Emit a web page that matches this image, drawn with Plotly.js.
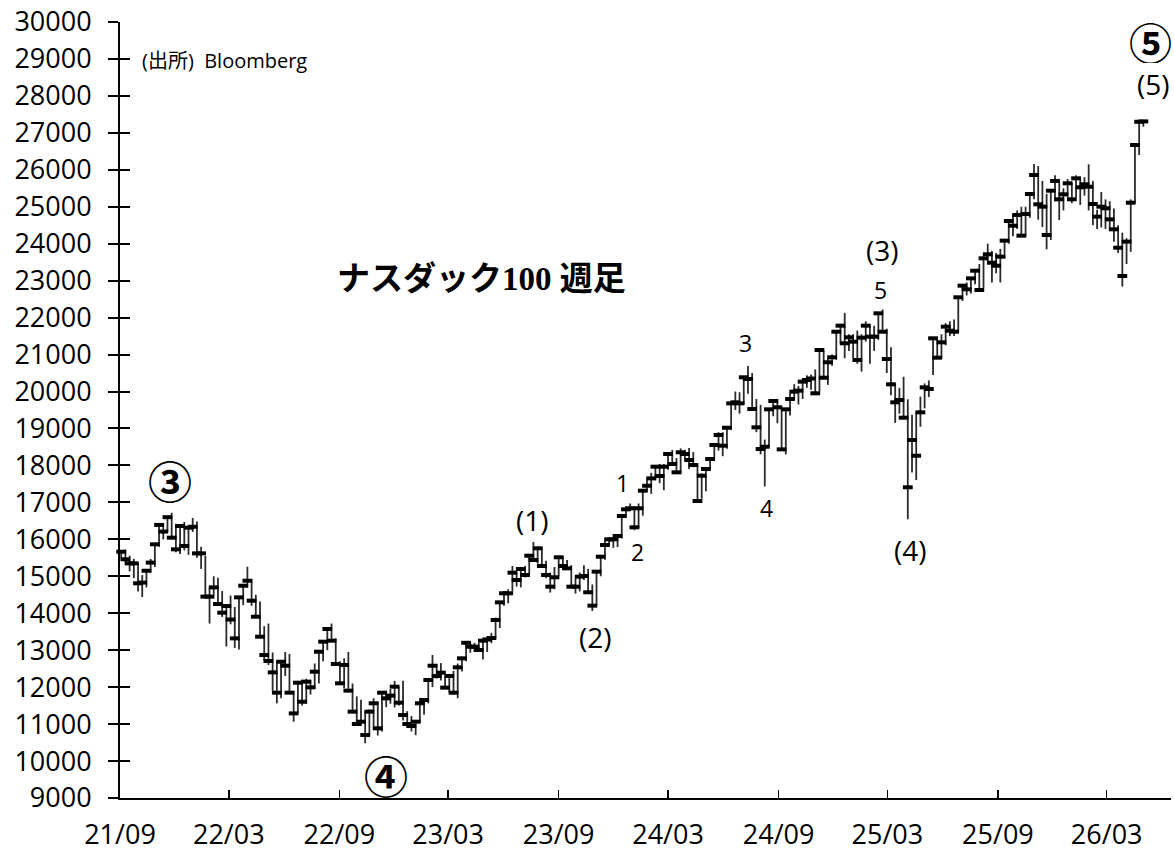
<!DOCTYPE html>
<html>
<head>
<meta charset="utf-8">
<script src="https://cdn.plot.ly/plotly-3.0.1.min.js"></script>
<style>html,body{margin:0;padding:0;background:#fff;}#chart{width:1174px;height:852px;}</style>
</head>
<body>
<div id="chart"></div>
<script>
// Weekly bars: first week ending 2021-09-03, one bar per week
const firstWeek = '2021-09-03';

const weekClose = [
15665,15460,15350,15350,14810,14830,15150,15370,15865,16390,16210,16600,16045,15730,16360,15820,16315,16340,
15620,15620,14450,14450,14700,14250,14015,14195,13830,13320,14430,14745,14880,14340,13906,13365,12870,12707,
12400,11850,12688,12580,11850,11290,12120,11606,12148,11995,12418,12959,13230,13573,13257,12627,12104,12600,
11905,11337,11002,11065,10705,11337,11563,10886,11850,11697,11770,12013,11580,11246,11002,10948,
11065,11563,11652,12193,12580,12301,12391,11986,12301,11850,12536,12779,13200,13094,13094,13005,13257,13290,
13330,13817,14295,14540,14540,15098,14900,15197,15035,15557,15440,15757,15278,15035,14719,14973,15514,15278,
15215,14719,14719,14990,15008,14567,14205,15125,15530,15846,16000,16000,16090,16631,16812,16840,
16325,16840,17316,17450,17650,17966,17713,17966,18309,18038,17813,18355,18309,18147,18011,17037,17722,17903,
18174,18553,18823,18535,19020,19680,19708,19680,20385,20339,19527,19031,18445,18506,19518,19743,19573,18435,
19518,19798,19996,20023,20267,20312,20352,19952,21124,20374,20791,20926,21619,21782,21305,21467,
21349,20853,21457,21782,21484,21484,22117,21619,20880,20195,19708,19770,19292,17408,18688,18263,19437,20113,
20068,21440,20916,21332,21755,21646,21619,22550,22864,22766,23063,23270,22747,23605,23713,23486,23405,23650,
24083,24615,24488,24777,24218,24804,25345,25860,25066,25002,24236,25435,25697,25202,25337,25635,
25202,25770,25527,25608,25543,25075,24732,25002,24958,24660,24390,23892,23126,24056,25110,26671,27300,27310
];

const weekHigh = [
15700,15720,15560,15470,15360,15030,15180,15470,15900,16400,16420,16630,16720,16420,16400,16470,16350,16580,
16480,15800,15550,14700,15000,14960,14600,14250,14480,14170,14450,14790,15260,14920,14500,14320,13650,13720,
12940,12670,12700,12950,12900,11900,12170,12200,12230,12200,12640,12970,13250,13600,13720,13320,12700,12780,
12950,12100,11750,11660,11350,11400,11700,11600,11850,11900,11950,12170,12000,12170,11350,11220,
11100,11600,11700,12200,12870,12620,12650,12300,12330,12440,12640,12820,13210,13210,13200,13200,13290,13340,
13470,13880,14300,14600,14650,15280,15100,15200,15280,15600,15930,15800,15790,15420,15100,15250,15560,15540,
15440,15300,14950,15100,15300,15200,14780,15150,15560,15990,16000,16060,16120,16650,16890,16970,
16830,16970,17340,17660,17800,17980,18040,18040,18330,18420,18200,18460,18420,18470,18360,18050,17780,17950,
18230,18600,18900,18900,19070,19700,20000,19980,20400,20690,20500,19800,19640,18700,19540,19760,19800,19580,
19500,19950,20200,20150,20300,20440,20460,20600,21150,21100,20900,21000,21660,21800,22130,21550,
21550,21650,21550,21900,21800,21780,22130,22220,21700,21200,20200,20100,20400,19790,19370,19454,19860,20221,
20300,21470,21430,21550,21850,21900,21950,22580,22900,22950,23100,23300,23450,23650,24000,23800,23750,23860,
24100,24650,24800,24900,25000,25000,25400,26157,26100,25700,25350,25460,25850,25650,25500,25750,
25650,25850,25750,25800,26150,25700,24920,25400,25200,25150,24950,24500,24300,24150,25200,26720,27330,27330
];

const weekLow = [
15480,15380,15130,14950,14590,14440,14700,15100,15250,15800,16000,16200,16000,15650,15600,15700,15580,16200,
15500,15200,14440,13720,14500,14200,13900,13100,13700,13060,13020,14220,14700,14200,13900,13360,12720,12600,
11900,11560,11700,12300,11830,11065,11300,11500,11550,11800,11950,12100,12700,13000,13240,12600,12100,11970,
11900,11330,10970,10990,10480,10690,10850,10690,10800,11460,11550,11450,11500,11100,10900,10800,
10700,11030,11250,11560,12000,12230,12180,11950,11860,11800,11700,12420,12700,12930,12950,12950,12750,12950,
13190,13320,13600,14200,14270,14590,14720,14700,14970,15070,15400,15340,15250,14950,14560,14650,15000,15170,
15200,14680,14530,14590,14900,14560,14060,14200,15000,15450,15850,15770,15790,16020,16600,16780,
16250,16300,16640,17300,17230,17600,17520,17330,17880,18010,17770,17770,18200,17900,17950,17000,17100,17300,
17900,18200,18400,18250,18450,18970,19500,19400,19650,19940,19500,18900,18300,17430,18500,19330,19140,18400,
18300,19350,19780,19650,19800,20100,20050,19900,20000,20330,20180,20700,20860,21300,20900,21100,
20900,20750,20540,21350,20750,21100,21400,21600,20500,19900,19150,19400,19250,16542,17810,17605,19048,19545,
19850,20450,20880,20900,21250,21500,21500,21600,22450,22600,22650,22900,22700,22800,23500,22950,23200,22950,
23600,24000,24200,24400,24200,24200,24700,25200,24650,24450,23849,24100,25150,24640,24900,25250,
25100,25250,25050,25300,24900,24500,24400,24440,24400,24350,24050,23750,22840,23450,23780,25100,26400,27165
];

const xTickVals = ['2021-09-01','2022-03-01','2022-09-01','2023-03-01','2023-09-01','2024-03-01','2024-09-01','2025-03-01','2025-09-01','2026-03-01'];
const xTickText = ['21/09','22/03','22/09','23/03','23/09','24/03','24/09','25/03','25/09','26/03'];

const yMin = 9000, yMax = 30000, yStep = 1000;

// Wave labels: [text, date, level, size, family]
const waveLabels = [
  ['③', '2021-11-23', 17606, 44, 'circ'],
  ['④', '2022-11-18', 9622, 44, 'circ'],
  ['⑤', '2026-05-13', 29480, 43, 'circ'],
  ['(5)', '2026-05-18', 28320, 28, 'sans'],
  ['(1)', '2023-07-19', 16523, 28, 'sans'],
  ['(2)', '2023-11-01', 13357, 28, 'sans'],
  ['(3)', '2025-02-21', 23830, 28, 'sans'],
  ['(4)', '2025-04-08', 15711, 28, 'sans'],
  ['1', '2023-12-17', 17524, 23, 'sans'],
  ['2', '2024-01-10', 15657, 23, 'sans'],
  ['3', '2024-07-08', 21313, 23, 'sans'],
  ['4', '2024-08-12', 16848, 23, 'sans'],
  ['5', '2025-02-17', 22747, 23, 'sans']
];

const chartTitle = 'ナスダック100 週足';
const sourceNote = '(出所)  Bloomberg';

const dayMs = 86400000;
const t0 = Date.parse(firstWeek + 'T00:00:00Z');
const weekDates = weekClose.map((_, i) => new Date(t0 + i * 7 * dayMs).toISOString().slice(0, 10));

const sansFam = '"Open Sans", "Noto Sans CJK JP", sans-serif';
const circFam = '"Noto Sans CJK JP", "DejaVu Sans", serif';

const traces = [
  {
    type: 'scatter',
    mode: 'markers',
    x: weekDates,
    y: weekClose,
    marker: { symbol: 'line-ew', size: 7, color: '#000', line: { width: 4, color: '#000' } },
    error_y: {
      type: 'data', symmetric: false,
      array: weekHigh.map((h, i) => h - weekClose[i]),
      arrayminus: weekLow.map((l, i) => weekClose[i] - l),
      width: 0, thickness: 1.8, color: '#2b2b2b'
    },
    hoverinfo: 'skip',
    cliponaxis: false
  },
  { type: 'scatter', mode: 'markers', x: [weekDates[0]], y: [null], yaxis: 'y2', hoverinfo: 'skip' }
];

const annotations = waveLabels.map(([t, d, v, s, f]) => {
  const a = {
    text: f === 'circ' ? '<b>' + t + '</b>' : t, x: d, y: v, xref: 'x', yref: 'y', showarrow: false,
    xanchor: 'center', yanchor: 'middle', borderpad: 0,
    font: { family: f === 'circ' ? circFam : sansFam, size: s, color: '#000' }
  };
  if (t === '⑤') a.height = 44;
  if (t === '(5)') a.height = 34;
  return a;
});
annotations.push({
  text: '<b>' + chartTitle + '</b>', xref: 'paper', yref: 'paper', x: 0.3435, y: 0.670,
  showarrow: false, xanchor: 'center', yanchor: 'middle',
  font: { family: '"Liberation Serif", "Noto Sans CJK JP", serif', size: 33, color: '#000' }
});
annotations.push({
  text: sourceNote, xref: 'paper', yref: 'paper', x: 0.019, y: 0.951,
  showarrow: false, xanchor: 'left', yanchor: 'middle',
  font: { family: sansFam, size: 20, color: '#000' }
});

const layout = {
  width: 1174, height: 852,
  margin: { l: 120, r: 3, t: 22, b: 54, pad: 0 },
  paper_bgcolor: '#fff', plot_bgcolor: '#fff',
  showlegend: false,
  xaxis: {
    type: 'date', range: ['2021-09-01', '2026-06-16'],
    tickmode: 'array', tickvals: xTickVals, ticktext: xTickText,
    ticks: 'inside', ticklen: 8, tickwidth: 1.5, tickcolor: '#000',
    showline: true, linewidth: 1.5, linecolor: '#000',
    showgrid: false, zeroline: false,
    tickfont: { family: sansFam, size: 27, color: '#000' },
    ticklabelstandoff: 12, automargin: false, fixedrange: true
  },
  yaxis: {
    range: [yMin, yMax], tick0: yMin, dtick: yStep, tickformat: 'd',
    ticks: 'outside', ticklen: 10, tickwidth: 2, tickcolor: '#000',
    showline: true, linewidth: 2, linecolor: '#000',
    showgrid: false, zeroline: false,
    tickfont: { family: sansFam, size: 27, color: '#000' },
    ticklabelstandoff: 11, automargin: false, fixedrange: true
  },
  yaxis2: {
    overlaying: 'y', side: 'left', anchor: 'x',
    range: [yMin, yMax], tick0: yMin, dtick: yStep,
    ticks: 'inside', ticklen: 10, tickwidth: 2, tickcolor: '#000',
    showticklabels: false, showline: false, showgrid: false, zeroline: false, fixedrange: true
  },
  annotations: annotations
};

Plotly.newPlot('chart', traces, layout, { staticPlot: true, displayModeBar: false });
</script>
</body>
</html>
